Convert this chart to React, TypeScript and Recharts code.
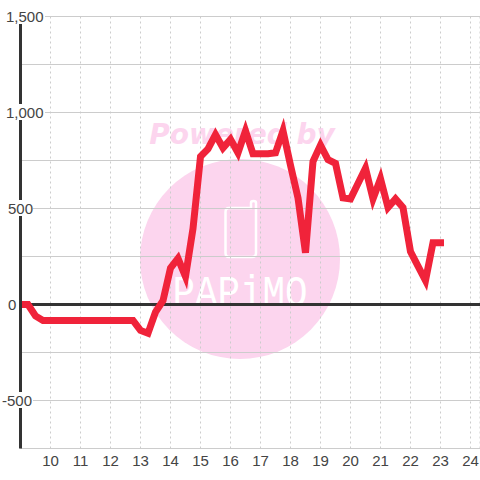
import { CartesianGrid, Line, LineChart, ReferenceLine, XAxis, YAxis } from "recharts";

const hours = [
  9, 9.25, 9.5, 9.75, 10, 10.25, 10.5, 10.75, 11, 11.25, 11.5, 11.75, 12, 12.25, 12.5, 12.75,
  13, 13.25, 13.5, 13.75, 14, 14.25, 14.5, 14.75, 15, 15.25, 15.5, 15.75, 16, 16.25, 16.5, 16.75,
  17, 17.25, 17.5, 17.75, 18, 18.25, 18.5, 18.75, 19, 19.25, 19.5, 19.75, 20, 20.25, 20.5, 20.75,
  21, 21.25, 21.5, 21.75, 22, 22.25, 22.5, 22.75, 23,
];
const values = [
  0, 0, -60, -83, -83, -83, -83, -83, -83, -83, -83, -83, -83, -83, -83, -83,
  -135, -150, -40, 20, 190, 240, 145, 395, 770, 810, 885, 815, 860, 790, 905, 785,
  785, 785, 790, 905, 725, 555, 270, 745, 830, 755, 735, 555, 550, 630, 710, 550,
  655, 505, 550, 505, 275, 200, 125, 322, 322,
];
const xTicks = [10, 11, 12, 13, 14, 15, 16, 17, 18, 19, 20, 21, 22, 23, 24];
const yTicks = [-750, -500, -250, 0, 250, 500, 750, 1000, 1250, 1500];
const yLabels = ["-500", "0", "500", "1,000", "1,500"];

const data = hours.map((hour, i) => ({ hour, value: values[i] }));

const TEXT = "#444";
const FONT = "'Liberation Sans', Arial, sans-serif";

// y labels sit on top of the axis line, each on a white patch
const labelBox: Record<string, [number, number]> = {
  "-500": [2, 29],
  "0": [8, 8],
  "500": [8, 23],
  "1,000": [6, 37],
  "1,500": [6, 37],
};

function YTick({ y, payload }: any) {
  const label = Number(payload.value).toLocaleString("en-US");
  if (!yLabels.includes(label)) return null;
  const [left, w] = labelBox[label];
  return (
    <g>
      <rect x={left - 1} y={y - 8.5} width={w + 3} height={16} fill="#fff" />
      <text x={left} y={y + 5} fontSize={15} fontFamily={FONT} fill={TEXT}>
        {label}
      </text>
    </g>
  );
}

function Watermark() {
  return (
    <svg width={480} height={480} style={{ position: "absolute", left: 0, top: 0 }}>
      <circle cx={240} cy={259} r={100} fill="#fcd5ee" />
      <text
        x={242}
        y={144}
        textAnchor="middle"
        fontSize={28}
        fontWeight="bold"
        fontStyle="italic"
        fontFamily="'DejaVu Sans', sans-serif"
        fill="#fcd5ee"
      >
        Powered by
      </text>
      <path
        d="M229 208 H251 V203 Q251 201 253.5 201 Q256 201 256 203 V253 Q256 257 252 257 H229 Q225.5 257 225.5 253 V212 Q225.5 208 229 208 Z"
        fill="none"
        stroke="#fff"
        strokeWidth={2.5}
      />
      <text
        x={240}
        y={306}
        textAnchor="middle"
        fontSize={44}
        textLength={135}
        lengthAdjust="spacingAndGlyphs"
        fontFamily="'Liberation Mono', monospace"
        fill="#fff"
      >
        PAPiMO
      </text>
    </svg>
  );
}

export default function App() {
  return (
    <div style={{ position: "absolute", left: 0, top: 0, width: 480, height: 480, background: "#fff" }}>
      <Watermark />
      <div style={{ position: "absolute", left: 0, top: 0 }}>
        <LineChart width={480} height={480} data={data} margin={{ top: 16.5, right: 0, bottom: 0, left: 0 }}>
          <CartesianGrid vertical={false} stroke="#ccc" />
          <CartesianGrid horizontal={false} stroke="#ccc" strokeDasharray="2 3" />
          <XAxis
            dataKey="hour"
            type="number"
            domain={[9, 24.3167]}
            ticks={xTicks}
            interval={0}
            height={31.5}
            allowDataOverflow
            axisLine={false}
            tickLine={false}
            tickMargin={1}
            tick={{ fontSize: 15, fontFamily: FONT, fill: TEXT }}
          />
          <YAxis
            type="number"
            domain={[-750, 1500]}
            ticks={yTicks}
            interval={0}
            width={20.5}
            allowDataOverflow
            axisLine={{ stroke: "#333", strokeWidth: 3 }}
            tickLine={false}
            tick={<YTick />}
          />
          <ReferenceLine y={0} stroke="#333" strokeWidth={3} />
          <Line
            dataKey="value"
            type="linear"
            stroke="#f0233a"
            strokeWidth={7}
            strokeLinecap="square"
            strokeLinejoin="miter"
            dot={false}
            isAnimationActive={false}
          />
        </LineChart>
      </div>
    </div>
  );
}
